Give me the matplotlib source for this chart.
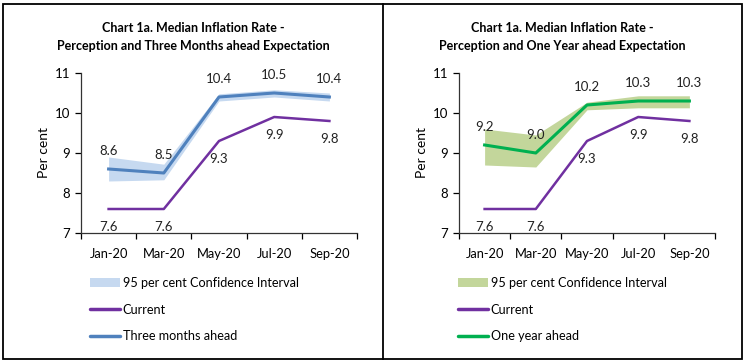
import matplotlib
matplotlib.use('Agg')
import matplotlib.pyplot as plt
import numpy as np
from matplotlib.lines import Line2D
from matplotlib.patches import Patch

plt.rcParams['font.family'] = ['Lato', 'DejaVu Sans']

months = ['Jan-20', 'Mar-20', 'May-20', 'Jul-20', 'Sep-20']
current = [7.6, 7.6, 9.3, 9.9, 9.8]
three_month = [8.6, 8.5, 10.4, 10.5, 10.4]
three_lo = [8.3, 8.33, 10.3, 10.4, 10.3]
three_hi = [8.9, 8.72, 10.48, 10.58, 10.5]
one_year = [9.2, 9.0, 10.2, 10.3, 10.3]
one_lo = [8.7, 8.65, 10.08, 10.13, 10.13]
one_hi = [9.6, 9.45, 10.27, 10.43, 10.43]

purple = '#7030a0'
blue = '#4f81bd'
blue_band = '#c6d9f0'
green = '#00b050'
green_band = '#c3d69b'

fig = plt.figure(figsize=(7.45, 3.64), dpi=100)

# outer frame with divider
fig.add_artist(plt.Rectangle((3/745, 1-359/364), 739/745, 355/364, transform=fig.transFigure,
                             fill=False, edgecolor='black', linewidth=1.3))
fig.add_artist(Line2D([382.5/745, 382.5/745], [1-359/364, 1-4/364], transform=fig.transFigure,
                      color='black', linewidth=1.3))

panels = [
    dict(left=81, right=357, title_x=193,
         title='Chart 1a. Median Inflation Rate -\nPerception and Three Months ahead Expectation',
         exp=three_month, lo=three_lo, hi=three_hi, col=blue, band=blue_band,
         exp_label='Three months ahead', leg_x=90),
    dict(left=459, right=715, title_x=562,
         title='Chart 1a. Median Inflation Rate -\nPerception and One Year ahead Expectation',
         exp=one_year, lo=one_lo, hi=one_hi, col=green, band=green_band,
         exp_label='One year ahead', leg_x=458),
]

x = np.arange(len(months))
for p in panels:
    ax = fig.add_axes([p['left']/745, 1-233/364, (p['right']-p['left'])/745, 160/364])
    ax.fill_between(x, p['lo'], p['hi'], color=p['band'], linewidth=0)
    ax.plot(x, current, color=purple, linewidth=1.8)
    ax.plot(x, p['exp'], color=p['col'], linewidth=2.2)
    for xi, v in zip(x, p['exp']):
        ax.annotate('%.1f' % v, (xi, v), xytext=(0, 13), textcoords='offset points',
                    ha='center', va='center', fontsize=9.5, color='#222222')
    for xi, v in zip(x, current):
        ax.annotate('%.1f' % v, (xi, v), xytext=(0, -13), textcoords='offset points',
                    ha='center', va='center', fontsize=9.5, color='#222222')
    ax.set_xlim(-0.5, 4.5)
    ax.set_ylim(7, 11)
    ax.set_yticks([7, 8, 9, 10, 11])
    ax.set_xticks(x, months)
    ax.set_xticks(np.arange(-0.5, 5, 1), minor=True)
    ax.tick_params(axis='x', which='major', length=0, pad=11, labelsize=9.3)
    ax.tick_params(axis='x', which='minor', length=4, width=0.9, direction='out')
    ax.tick_params(axis='y', length=4, width=0.9, labelsize=9.5, pad=4)
    for s in ['top', 'right']:
        ax.spines[s].set_visible(False)
    for s in ['left', 'bottom']:
        ax.spines[s].set_linewidth(0.9)
        ax.spines[s].set_color('#333333')
    ax.set_ylabel('Per cent', fontsize=10, labelpad=3)
    fig.text(p['title_x']/745, 1-37/364, p['title'], ha='center', va='center',
             fontsize=9, fontweight='bold', linespacing=1.5)
    handles = [Patch(facecolor=p['band'], edgecolor='none'),
               Line2D([], [], color=purple, linewidth=2.5, solid_capstyle='round'),
               Line2D([], [], color=p['col'], linewidth=2.5, solid_capstyle='round')]
    labels = ['95 per cent Confidence Interval', 'Current', p['exp_label']]
    fig.legend(handles, labels, loc='upper left',
               bbox_to_anchor=(p['leg_x']/745, 1-277/364), frameon=False,
               fontsize=9.1, handlelength=2.4, handletextpad=0.2, labelspacing=1.15,
               borderpad=0, borderaxespad=0)

fig.savefig('out.png', dpi=100)
